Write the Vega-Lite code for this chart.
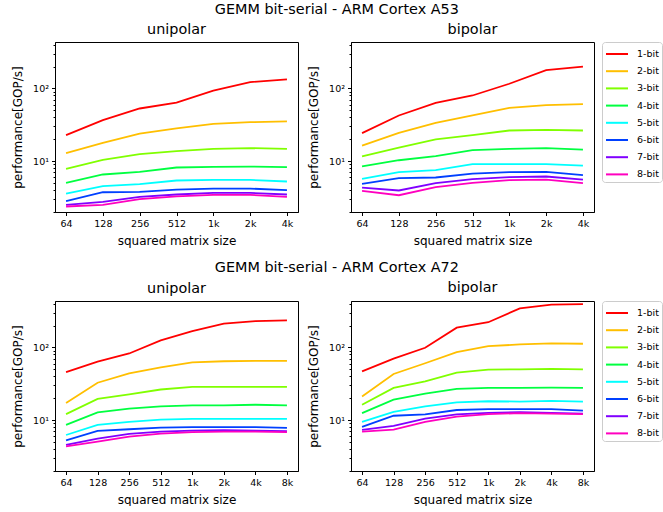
{
  "$schema": "https://vega.github.io/schema/vega-lite/v6.json",
  "padding": {"left": 11, "top": 1, "right": 0, "bottom": 0},
  "background": "white",
  "datasets": {
    "a53uni": [
      {"size": "64", "bits": "1-bit", "perf": 22.8}, {"size": "128", "bits": "1-bit", "perf": 36.6}, {"size": "256", "bits": "1-bit", "perf": 53}, {"size": "512", "bits": "1-bit", "perf": 64}, {"size": "1k", "bits": "1-bit", "perf": 93}, {"size": "2k", "bits": "1-bit", "perf": 122}, {"size": "4k", "bits": "1-bit", "perf": 133},
      {"size": "64", "bits": "2-bit", "perf": 12.9}, {"size": "128", "bits": "2-bit", "perf": 17.9}, {"size": "256", "bits": "2-bit", "perf": 24}, {"size": "512", "bits": "2-bit", "perf": 28.2}, {"size": "1k", "bits": "2-bit", "perf": 32.6}, {"size": "2k", "bits": "2-bit", "perf": 34.4}, {"size": "4k", "bits": "2-bit", "perf": 35.2},
      {"size": "64", "bits": "3-bit", "perf": 7.84}, {"size": "128", "bits": "3-bit", "perf": 10.4}, {"size": "256", "bits": "3-bit", "perf": 12.5}, {"size": "512", "bits": "3-bit", "perf": 13.7}, {"size": "1k", "bits": "3-bit", "perf": 14.8}, {"size": "2k", "bits": "3-bit", "perf": 15.1}, {"size": "4k", "bits": "3-bit", "perf": 14.8},
      {"size": "64", "bits": "4-bit", "perf": 5.03}, {"size": "128", "bits": "4-bit", "perf": 6.56}, {"size": "256", "bits": "4-bit", "perf": 7.13}, {"size": "512", "bits": "4-bit", "perf": 8.18}, {"size": "1k", "bits": "4-bit", "perf": 8.35}, {"size": "2k", "bits": "4-bit", "perf": 8.43}, {"size": "4k", "bits": "4-bit", "perf": 8.26},
      {"size": "64", "bits": "5-bit", "perf": 3.59}, {"size": "128", "bits": "5-bit", "perf": 4.53}, {"size": "256", "bits": "5-bit", "perf": 4.82}, {"size": "512", "bits": "5-bit", "perf": 5.42}, {"size": "1k", "bits": "5-bit", "perf": 5.53}, {"size": "2k", "bits": "5-bit", "perf": 5.53}, {"size": "4k", "bits": "5-bit", "perf": 5.25},
      {"size": "64", "bits": "6-bit", "perf": 2.82}, {"size": "128", "bits": "6-bit", "perf": 3.74}, {"size": "256", "bits": "6-bit", "perf": 3.78}, {"size": "512", "bits": "6-bit", "perf": 4.07}, {"size": "1k", "bits": "6-bit", "perf": 4.2}, {"size": "2k", "bits": "6-bit", "perf": 4.2}, {"size": "4k", "bits": "6-bit", "perf": 3.99},
      {"size": "64", "bits": "7-bit", "perf": 2.51}, {"size": "128", "bits": "7-bit", "perf": 2.75}, {"size": "256", "bits": "7-bit", "perf": 3.23}, {"size": "512", "bits": "7-bit", "perf": 3.48}, {"size": "1k", "bits": "7-bit", "perf": 3.66}, {"size": "2k", "bits": "7-bit", "perf": 3.66}, {"size": "4k", "bits": "7-bit", "perf": 3.48},
      {"size": "64", "bits": "8-bit", "perf": 2.38}, {"size": "128", "bits": "8-bit", "perf": 2.51}, {"size": "256", "bits": "8-bit", "perf": 3.0}, {"size": "512", "bits": "8-bit", "perf": 3.27}, {"size": "1k", "bits": "8-bit", "perf": 3.44}, {"size": "2k", "bits": "8-bit", "perf": 3.44}, {"size": "4k", "bits": "8-bit", "perf": 3.23}
    ],
    "a53bi": [
      {"size": "64", "bits": "1-bit", "perf": 24.3}, {"size": "128", "bits": "1-bit", "perf": 42.5}, {"size": "256", "bits": "1-bit", "perf": 63.5}, {"size": "512", "bits": "1-bit", "perf": 80}, {"size": "1k", "bits": "1-bit", "perf": 116}, {"size": "2k", "bits": "1-bit", "perf": 179}, {"size": "4k", "bits": "1-bit", "perf": 199},
      {"size": "64", "bits": "2-bit", "perf": 16.4}, {"size": "128", "bits": "2-bit", "perf": 24.5}, {"size": "256", "bits": "2-bit", "perf": 33.7}, {"size": "512", "bits": "2-bit", "perf": 42.5}, {"size": "1k", "bits": "2-bit", "perf": 54.2}, {"size": "2k", "bits": "2-bit", "perf": 59}, {"size": "4k", "bits": "2-bit", "perf": 61},
      {"size": "64", "bits": "3-bit", "perf": 11.6}, {"size": "128", "bits": "3-bit", "perf": 15.4}, {"size": "256", "bits": "3-bit", "perf": 19.9}, {"size": "512", "bits": "3-bit", "perf": 22.8}, {"size": "1k", "bits": "3-bit", "perf": 26.4}, {"size": "2k", "bits": "3-bit", "perf": 27}, {"size": "4k", "bits": "3-bit", "perf": 26.4},
      {"size": "64", "bits": "4-bit", "perf": 8.45}, {"size": "128", "bits": "4-bit", "perf": 10.3}, {"size": "256", "bits": "4-bit", "perf": 11.7}, {"size": "512", "bits": "4-bit", "perf": 14.2}, {"size": "1k", "bits": "4-bit", "perf": 14.8}, {"size": "2k", "bits": "4-bit", "perf": 15.1}, {"size": "4k", "bits": "4-bit", "perf": 14.4},
      {"size": "64", "bits": "5-bit", "perf": 5.71}, {"size": "128", "bits": "5-bit", "perf": 7.06}, {"size": "256", "bits": "5-bit", "perf": 7.52}, {"size": "512", "bits": "5-bit", "perf": 9.1}, {"size": "1k", "bits": "5-bit", "perf": 9.1}, {"size": "2k", "bits": "5-bit", "perf": 9.1}, {"size": "4k", "bits": "5-bit", "perf": 8.71},
      {"size": "64", "bits": "6-bit", "perf": 4.88}, {"size": "128", "bits": "6-bit", "perf": 5.84}, {"size": "256", "bits": "6-bit", "perf": 5.96}, {"size": "512", "bits": "6-bit", "perf": 6.76}, {"size": "1k", "bits": "6-bit", "perf": 7.06}, {"size": "2k", "bits": "6-bit", "perf": 7.13}, {"size": "4k", "bits": "6-bit", "perf": 6.42},
      {"size": "64", "bits": "7-bit", "perf": 4.34}, {"size": "128", "bits": "7-bit", "perf": 3.95}, {"size": "256", "bits": "7-bit", "perf": 4.98}, {"size": "512", "bits": "7-bit", "perf": 5.65}, {"size": "1k", "bits": "7-bit", "perf": 6.02}, {"size": "2k", "bits": "7-bit", "perf": 6.15}, {"size": "4k", "bits": "7-bit", "perf": 5.58},
      {"size": "64", "bits": "8-bit", "perf": 3.91}, {"size": "128", "bits": "8-bit", "perf": 3.4}, {"size": "256", "bits": "8-bit", "perf": 4.39}, {"size": "512", "bits": "8-bit", "perf": 5.03}, {"size": "1k", "bits": "8-bit", "perf": 5.48}, {"size": "2k", "bits": "8-bit", "perf": 5.58}, {"size": "4k", "bits": "8-bit", "perf": 4.98}
    ],
    "a72uni": [
      {"size": "64", "bits": "1-bit", "perf": 45.9}, {"size": "128", "bits": "1-bit", "perf": 64}, {"size": "256", "bits": "1-bit", "perf": 82.6}, {"size": "512", "bits": "1-bit", "perf": 125}, {"size": "1k", "bits": "1-bit", "perf": 167}, {"size": "2k", "bits": "1-bit", "perf": 213}, {"size": "4k", "bits": "1-bit", "perf": 230}, {"size": "8k", "bits": "1-bit", "perf": 235},
      {"size": "64", "bits": "2-bit", "perf": 17.2}, {"size": "128", "bits": "2-bit", "perf": 32.7}, {"size": "256", "bits": "2-bit", "perf": 44}, {"size": "512", "bits": "2-bit", "perf": 53.3}, {"size": "1k", "bits": "2-bit", "perf": 62.5}, {"size": "2k", "bits": "2-bit", "perf": 64.6}, {"size": "4k", "bits": "2-bit", "perf": 65.3}, {"size": "8k", "bits": "2-bit", "perf": 65.3},
      {"size": "64", "bits": "3-bit", "perf": 12.1}, {"size": "128", "bits": "3-bit", "perf": 19.6}, {"size": "256", "bits": "3-bit", "perf": 22.7}, {"size": "512", "bits": "3-bit", "perf": 26.4}, {"size": "1k", "bits": "3-bit", "perf": 28.7}, {"size": "2k", "bits": "3-bit", "perf": 28.7}, {"size": "4k", "bits": "3-bit", "perf": 28.7}, {"size": "8k", "bits": "3-bit", "perf": 28.7},
      {"size": "64", "bits": "4-bit", "perf": 8.61}, {"size": "128", "bits": "4-bit", "perf": 12.8}, {"size": "256", "bits": "4-bit", "perf": 14.4}, {"size": "512", "bits": "4-bit", "perf": 15.5}, {"size": "1k", "bits": "4-bit", "perf": 16.0}, {"size": "2k", "bits": "4-bit", "perf": 16.0}, {"size": "4k", "bits": "4-bit", "perf": 16.3}, {"size": "8k", "bits": "4-bit", "perf": 16.0},
      {"size": "64", "bits": "5-bit", "perf": 6.25}, {"size": "128", "bits": "5-bit", "perf": 8.61}, {"size": "256", "bits": "5-bit", "perf": 9.48}, {"size": "512", "bits": "5-bit", "perf": 10.2}, {"size": "1k", "bits": "5-bit", "perf": 10.4}, {"size": "2k", "bits": "5-bit", "perf": 10.4}, {"size": "4k", "bits": "5-bit", "perf": 10.4}, {"size": "8k", "bits": "5-bit", "perf": 10.4},
      {"size": "64", "bits": "6-bit", "perf": 5.27}, {"size": "128", "bits": "6-bit", "perf": 7.11}, {"size": "256", "bits": "6-bit", "perf": 7.5}, {"size": "512", "bits": "6-bit", "perf": 7.91}, {"size": "1k", "bits": "6-bit", "perf": 8.0}, {"size": "2k", "bits": "6-bit", "perf": 8.0}, {"size": "4k", "bits": "6-bit", "perf": 8.0}, {"size": "8k", "bits": "6-bit", "perf": 7.83},
      {"size": "64", "bits": "7-bit", "perf": 4.59}, {"size": "128", "bits": "7-bit", "perf": 5.56}, {"size": "256", "bits": "7-bit", "perf": 6.46}, {"size": "512", "bits": "7-bit", "perf": 6.96}, {"size": "1k", "bits": "7-bit", "perf": 7.2}, {"size": "2k", "bits": "7-bit", "perf": 7.28}, {"size": "4k", "bits": "7-bit", "perf": 7.2}, {"size": "8k", "bits": "7-bit", "perf": 7.04},
      {"size": "64", "bits": "8-bit", "perf": 4.35}, {"size": "128", "bits": "8-bit", "perf": 5.06}, {"size": "256", "bits": "8-bit", "perf": 5.93}, {"size": "512", "bits": "8-bit", "perf": 6.53}, {"size": "1k", "bits": "8-bit", "perf": 6.84}, {"size": "2k", "bits": "8-bit", "perf": 6.96}, {"size": "4k", "bits": "8-bit", "perf": 6.96}, {"size": "8k", "bits": "8-bit", "perf": 6.84}
    ],
    "a72bi": [
      {"size": "64", "bits": "1-bit", "perf": 46.9}, {"size": "128", "bits": "1-bit", "perf": 70.3}, {"size": "256", "bits": "1-bit", "perf": 99}, {"size": "512", "bits": "1-bit", "perf": 187}, {"size": "1k", "bits": "1-bit", "perf": 222}, {"size": "2k", "bits": "1-bit", "perf": 344}, {"size": "4k", "bits": "1-bit", "perf": 387}, {"size": "8k", "bits": "1-bit", "perf": 395},
      {"size": "64", "bits": "2-bit", "perf": 21.1}, {"size": "128", "bits": "2-bit", "perf": 43.1}, {"size": "256", "bits": "2-bit", "perf": 60.6}, {"size": "512", "bits": "2-bit", "perf": 86.1}, {"size": "1k", "bits": "2-bit", "perf": 104}, {"size": "2k", "bits": "2-bit", "perf": 110}, {"size": "4k", "bits": "2-bit", "perf": 113.6}, {"size": "8k", "bits": "2-bit", "perf": 112.4},
      {"size": "64", "bits": "3-bit", "perf": 16.3}, {"size": "128", "bits": "3-bit", "perf": 27.8}, {"size": "256", "bits": "3-bit", "perf": 34.1}, {"size": "512", "bits": "3-bit", "perf": 45}, {"size": "1k", "bits": "3-bit", "perf": 49.5}, {"size": "2k", "bits": "3-bit", "perf": 50}, {"size": "4k", "bits": "3-bit", "perf": 50.6}, {"size": "8k", "bits": "3-bit", "perf": 50},
      {"size": "64", "bits": "4-bit", "perf": 12.5}, {"size": "128", "bits": "4-bit", "perf": 19.2}, {"size": "256", "bits": "4-bit", "perf": 23.2}, {"size": "512", "bits": "4-bit", "perf": 27}, {"size": "1k", "bits": "4-bit", "perf": 27.8}, {"size": "2k", "bits": "4-bit", "perf": 27.8}, {"size": "4k", "bits": "4-bit", "perf": 28.1}, {"size": "8k", "bits": "4-bit", "perf": 27.8},
      {"size": "64", "bits": "5-bit", "perf": 9.48}, {"size": "128", "bits": "5-bit", "perf": 13.0}, {"size": "256", "bits": "5-bit", "perf": 15.5}, {"size": "512", "bits": "5-bit", "perf": 17.6}, {"size": "1k", "bits": "5-bit", "perf": 18.2}, {"size": "2k", "bits": "5-bit", "perf": 18.0}, {"size": "4k", "bits": "5-bit", "perf": 18.4}, {"size": "8k", "bits": "5-bit", "perf": 18.0},
      {"size": "64", "bits": "6-bit", "perf": 8.08}, {"size": "128", "bits": "6-bit", "perf": 11.5}, {"size": "256", "bits": "6-bit", "perf": 12.0}, {"size": "512", "bits": "6-bit", "perf": 13.8}, {"size": "1k", "bits": "6-bit", "perf": 14.2}, {"size": "2k", "bits": "6-bit", "perf": 14.2}, {"size": "4k", "bits": "6-bit", "perf": 14.2}, {"size": "8k", "bits": "6-bit", "perf": 13.5},
      {"size": "64", "bits": "7-bit", "perf": 7.34}, {"size": "128", "bits": "7-bit", "perf": 8.34}, {"size": "256", "bits": "7-bit", "perf": 10.5}, {"size": "512", "bits": "7-bit", "perf": 12.0}, {"size": "1k", "bits": "7-bit", "perf": 12.6}, {"size": "2k", "bits": "7-bit", "perf": 12.9}, {"size": "4k", "bits": "7-bit", "perf": 12.6}, {"size": "8k", "bits": "7-bit", "perf": 12.3},
      {"size": "64", "bits": "8-bit", "perf": 6.97}, {"size": "128", "bits": "8-bit", "perf": 7.42}, {"size": "256", "bits": "8-bit", "perf": 9.48}, {"size": "512", "bits": "8-bit", "perf": 11.2}, {"size": "1k", "bits": "8-bit", "perf": 12.1}, {"size": "2k", "bits": "8-bit", "perf": 12.5}, {"size": "4k", "bits": "8-bit", "perf": 12.3}, {"size": "8k", "bits": "8-bit", "perf": 12.1}
    ]
  },
  "resolve": {"scale": {"color": "independent"}},
  "spacing": 13,
  "vconcat": [
    {
      "title": {"text": "GEMM bit-serial - ARM Cortex A53", "anchor": "middle", "offset": 4},
      "spacing": 8,
      "hconcat": [
        {
          "title": "unipolar",
          "data": {"name": "a53uni"},
          "width": 243, "height": 170,
          "mark": {"type": "line", "strokeWidth": 1.8},
          "encoding": {
            "x": {"field": "size", "type": "ordinal", "scale": {"type": "point", "padding": 0.3, "domain": ["64", "128", "256", "512", "1k", "2k", "4k"]}, "axis": {"title": "squared matrix size", "labelAngle": 0}},
            "y": {"field": "perf", "type": "quantitative", "scale": {"type": "log", "domain": [2, 435], "nice": false}, "axis": {"title": "performance[GOP/s]", "values": [2, 3, 4, 5, 6, 7, 8, 9, 10, 20, 30, 40, 50, 60, 70, 80, 90, 100, 200, 300, 400], "labelExpr": "datum.value == 10 ? '10¹' : datum.value == 100 ? '10²' : ''", "tickSize": {"condition": {"test": "datum.value == 10 || datum.value == 100", "value": 3.5}, "value": 2}}},
            "color": {"field": "bits", "type": "nominal", "scale": {"domain": ["1-bit", "2-bit", "3-bit", "4-bit", "5-bit", "6-bit", "7-bit", "8-bit"], "range": ["#ff0000", "#ffbf00", "#80ff00", "#00ff40", "#00ffff", "#0040ff", "#8000ff", "#ff00bf"]}, "legend": {"title": " "}}
          }
        },
        {
          "title": "bipolar",
          "data": {"name": "a53bi"},
          "width": 243, "height": 170,
          "mark": {"type": "line", "strokeWidth": 1.8},
          "encoding": {
            "x": {"field": "size", "type": "ordinal", "scale": {"type": "point", "padding": 0.3, "domain": ["64", "128", "256", "512", "1k", "2k", "4k"]}, "axis": {"title": "squared matrix size", "labelAngle": 0}},
            "y": {"field": "perf", "type": "quantitative", "scale": {"type": "log", "domain": [2, 435], "nice": false}, "axis": {"title": "performance[GOP/s]", "values": [2, 3, 4, 5, 6, 7, 8, 9, 10, 20, 30, 40, 50, 60, 70, 80, 90, 100, 200, 300, 400], "labelExpr": "datum.value == 10 ? '10¹' : datum.value == 100 ? '10²' : ''", "tickSize": {"condition": {"test": "datum.value == 10 || datum.value == 100", "value": 3.5}, "value": 2}}},
            "color": {"field": "bits", "type": "nominal", "scale": {"domain": ["1-bit", "2-bit", "3-bit", "4-bit", "5-bit", "6-bit", "7-bit", "8-bit"], "range": ["#ff0000", "#ffbf00", "#80ff00", "#00ff40", "#00ffff", "#0040ff", "#8000ff", "#ff00bf"]}, "legend": {"title": " "}}
          }
        }
      ]
    },
    {
      "title": {"text": "GEMM bit-serial - ARM Cortex A72", "anchor": "middle", "offset": 4},
      "spacing": 8,
      "hconcat": [
        {
          "title": "unipolar",
          "data": {"name": "a72uni"},
          "width": 243, "height": 170,
          "mark": {"type": "line", "strokeWidth": 1.8},
          "encoding": {
            "x": {"field": "size", "type": "ordinal", "scale": {"type": "point", "padding": 0.35, "domain": ["64", "128", "256", "512", "1k", "2k", "4k", "8k"]}, "axis": {"title": "squared matrix size", "labelAngle": 0}},
            "y": {"field": "perf", "type": "quantitative", "scale": {"type": "log", "domain": [2, 435], "nice": false}, "axis": {"title": "performance[GOP/s]", "values": [2, 3, 4, 5, 6, 7, 8, 9, 10, 20, 30, 40, 50, 60, 70, 80, 90, 100, 200, 300, 400], "labelExpr": "datum.value == 10 ? '10¹' : datum.value == 100 ? '10²' : ''", "tickSize": {"condition": {"test": "datum.value == 10 || datum.value == 100", "value": 3.5}, "value": 2}}},
            "color": {"field": "bits", "type": "nominal", "scale": {"domain": ["1-bit", "2-bit", "3-bit", "4-bit", "5-bit", "6-bit", "7-bit", "8-bit"], "range": ["#ff0000", "#ffbf00", "#80ff00", "#00ff40", "#00ffff", "#0040ff", "#8000ff", "#ff00bf"]}, "legend": {"title": " "}}
          }
        },
        {
          "title": "bipolar",
          "data": {"name": "a72bi"},
          "width": 243, "height": 170,
          "mark": {"type": "line", "strokeWidth": 1.8},
          "encoding": {
            "x": {"field": "size", "type": "ordinal", "scale": {"type": "point", "padding": 0.35, "domain": ["64", "128", "256", "512", "1k", "2k", "4k", "8k"]}, "axis": {"title": "squared matrix size", "labelAngle": 0}},
            "y": {"field": "perf", "type": "quantitative", "scale": {"type": "log", "domain": [2, 435], "nice": false}, "axis": {"title": "performance[GOP/s]", "values": [2, 3, 4, 5, 6, 7, 8, 9, 10, 20, 30, 40, 50, 60, 70, 80, 90, 100, 200, 300, 400], "labelExpr": "datum.value == 10 ? '10¹' : datum.value == 100 ? '10²' : ''", "tickSize": {"condition": {"test": "datum.value == 10 || datum.value == 100", "value": 3.5}, "value": 2}}},
            "color": {"field": "bits", "type": "nominal", "scale": {"domain": ["1-bit", "2-bit", "3-bit", "4-bit", "5-bit", "6-bit", "7-bit", "8-bit"], "range": ["#ff0000", "#ffbf00", "#80ff00", "#00ff40", "#00ffff", "#0040ff", "#8000ff", "#ff00bf"]}, "legend": {"title": " "}}
          }
        }
      ]
    }
  ],
  "config": {
    "font": "DejaVu Sans",
    "view": {"stroke": "black", "strokeWidth": 1},
    "axis": {"grid": false, "domainColor": "black", "tickColor": "black", "labelColor": "black", "titleColor": "black", "labelFontSize": 9.5, "titleFontSize": 12, "titleFontWeight": "normal", "tickSize": 3.5, "labelPadding": 3, "labelFont": "DejaVu Sans", "titleFont": "DejaVu Sans"},
    "axisX": {"titlePadding": 7},
    "axisY": {"titlePadding": 8},
    "title": {"fontSize": 14.4, "fontWeight": "normal", "color": "black", "offset": 5, "font": "DejaVu Sans"},
    "legend": {"symbolType": "M-2,0L2,0", "symbolStrokeWidth": 2, "symbolSize": 121, "symbolOffset": 5.5, "labelOffset": 13.5, "labelFontSize": 9.5, "labelColor": "black", "strokeColor": "#cccccc", "cornerRadius": 3, "padding": 3, "offset": 7, "rowPadding": 6.2, "labelFont": "DejaVu Sans", "titleFontSize": 1, "titlePadding": 1.5}
  }
}
